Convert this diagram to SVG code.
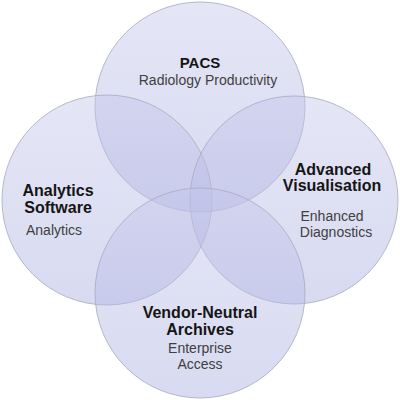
<svg xmlns="http://www.w3.org/2000/svg" width="400" height="400" viewBox="0 0 400 400">
  <defs>
    <linearGradient id="g" x1="0" y1="0" x2="0" y2="1">
      <stop offset="0" stop-color="#c4c7ea"/>
      <stop offset="1" stop-color="#a9ade0"/>
    </linearGradient>
    <style>
      .c { fill: url(#g); fill-opacity: 0.45; stroke: #a8aabd; stroke-width: 1; stroke-opacity: 0.8; }
      .t { font-family: "Liberation Sans", Arial, sans-serif; font-weight: bold; font-size: 16px; fill: #151515; text-anchor: middle; }
      .s { font-family: "Liberation Sans", Arial, sans-serif; font-size: 14px; fill: #404040; text-anchor: middle; }
    </style>
  </defs>
  <rect width="400" height="400" fill="#ffffff"/>
  <g id="connectors"/>
  <g id="pacs">
    <circle class="c" cx="200" cy="107" r="105"/>
    <text class="t" x="200" y="68" style="font-size:15px">PACS</text>
    <text class="s" x="208" y="85">Radiology Productivity</text>
  </g>
  <g id="analytics">
    <circle class="c" cx="107" cy="200" r="105"/>
    <text class="t" x="58" y="196">Analytics</text>
    <text class="t" x="58" y="212.5">Software</text>
    <text class="s" x="54" y="235">Analytics</text>
  </g>
  <g id="advanced">
    <circle class="c" cx="294" cy="200" r="104"/>
    <text class="t" x="333" y="175">Advanced</text>
    <text class="t" x="332" y="191">Visualisation</text>
    <text class="s" x="332" y="221">Enhanced</text>
    <text class="s" x="336" y="237">Diagnostics</text>
  </g>
  <g id="vna">
    <circle class="c" cx="200" cy="293" r="105"/>
    <text class="t" x="200" y="318">Vendor-Neutral</text>
    <text class="t" x="200" y="334.5">Archives</text>
    <text class="s" x="200" y="353">Enterprise</text>
    <text class="s" x="200" y="369">Access</text>
  </g>
</svg>
